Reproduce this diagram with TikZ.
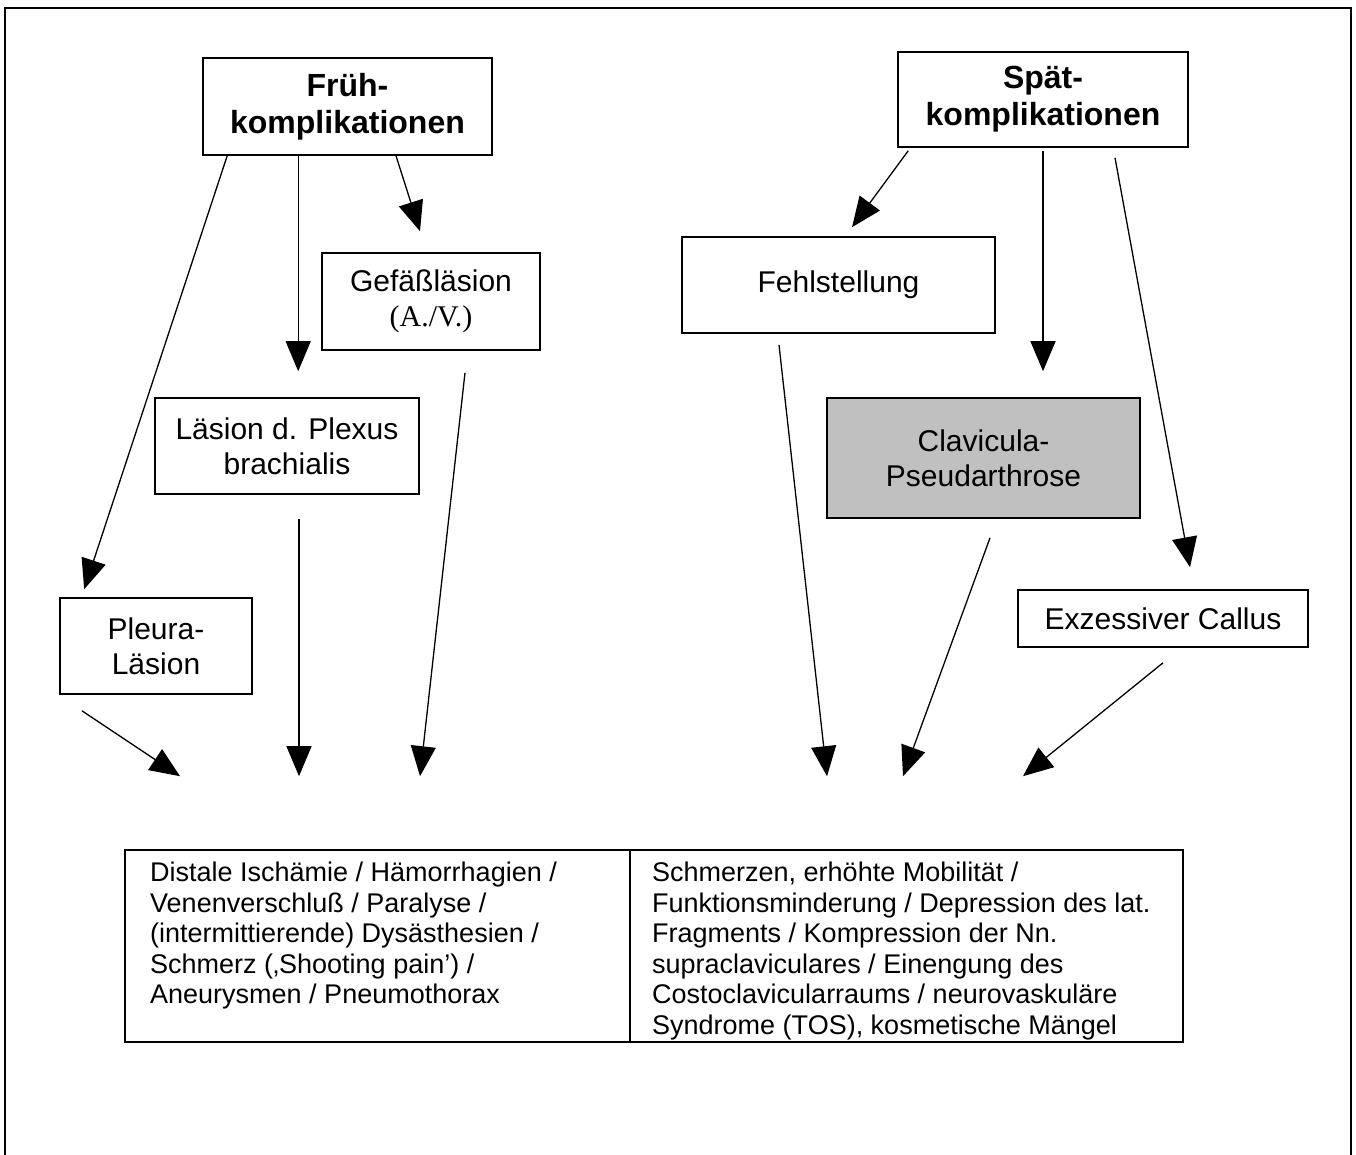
\documentclass[tikz,border=0pt]{standalone}
\usepackage{fontspec}
\setmainfont{Liberation Sans}
\newfontfamily\timesfont{Liberation Serif}
\usetikzlibrary{arrows.meta,calc}
\definecolor{boxgray}{HTML}{C0C0C0}
\begin{document}
\begin{tikzpicture}[x=1pt,y=-1pt,
  box/.style={draw,line width=1.6pt,align=center,inner sep=0pt,font=\fontsize{30}{35}\selectfont},
  title/.style={box,font=\bfseries\fontsize{32}{37}\selectfont},
  cell/.style={draw,line width=1.6pt,inner sep=0pt},
  celltext/.style={anchor=north west,align=left,inner sep=0pt,font=\fontsize{27}{30.5}\selectfont},
  arr/.style={line width=1.3pt,-{Triangle[length=30pt,width=25pt]}}]
\useasboundingbox (0,0) rectangle (1356,1154);
\draw[line width=1.8pt] (5,1170) -- (5,8) -- (1351,8) -- (1351,1170);

\node[title,minimum width=289pt,minimum height=97pt] (frueh) at (347.5,106.5) {Früh-\\komplikationen};
\node[title,minimum width=290pt,minimum height=95pt] (spaet) at (1043,99.5) {Spät-\\komplikationen};
\node[box,minimum width=218pt,minimum height=97pt] (gefaess) at (431,301.5) {Gefäßläsion\\{\timesfont (A./V.)}};
\node[box,minimum width=264pt,minimum height=96pt] (plexus) at (287,446) {Läsion d. Plexus\\brachialis};
\node[box,minimum width=192pt,minimum height=96pt] (pleura) at (156,646) {Pleura-\\Läsion};
\node[box,minimum width=313pt,minimum height=96pt] (fehl) at (838.5,285) {Fehlstellung};
\node[box,fill=boxgray,minimum width=313pt,minimum height=120pt] (clav) at (983.5,458) {Clavicula-\\Pseudarthrose};
\node[box,minimum width=290pt,minimum height=57pt] (callus) at (1163,618.5) {Exzessiver Callus};
\node[cell,minimum width=505pt,minimum height=192pt] (tabL) at (377.5,946) {};
\node[cell,minimum width=553pt,minimum height=192pt] (tabR) at (906.5,946) {};
\node[celltext] (tabLtext) at (150,862) {Distale Ischämie / Hämorrhagien /\\Venenverschluß / Paralyse /\\(intermittierende) Dysästhesien /\\Schmerz (‚Shooting pain’) /\\Aneurysmen / Pneumothorax};
\node[celltext] (tabRtext) at (652,862) {Schmerzen, erhöhte Mobilität /\\Funktionsminderung / Depression des lat.\\Fragments / Kompression der Nn.\\supraclaviculares / Einengung des\\Costoclavicularraums / neurovaskuläre\\Syndrome (TOS), kosmetische Mängel};

% Frühkomplikationen
\draw[arr] ($(frueh.south west)+(25,0)$) -- ($(pleura.north west)+(25,-8)$);
\draw[arr] ($(frueh.south west)+(96,0)$) -- ($(plexus.north west)+(144,-26)$);
\draw[arr] ($(frueh.south)+(48.5,0)$) -- ($(gefaess.north)+(-11,-21)$);
\draw[arr] ($(gefaess.south)+(34,22)$) -- ($(tabL.north)+(42.5,-73)$);
\draw[arr] ($(plexus.south)+(12,24)$) -- ($(tabL.north)+(-78.5,-73)$);
\draw[arr] ($(pleura.south)+(-74,16)$) -- ($(tabL.north)+(-197.5,-73)$);
% Spätkomplikationen
\draw[arr] ($(spaet.south west)+(11,3)$) -- ($(fehl.north)+(13.5,-9)$);
\draw[arr] ($(spaet.south)+(0,3)$) -- ($(clav.north)+(59.5,-26)$);
\draw[arr] ($(spaet.south)+(72,10)$) -- ($(callus.north)+(27,-22)$);
\draw[arr] ($(fehl.south)+(-59.5,11)$) -- ($(tabR.north)+(-79.5,-73)$);
\draw[arr] ($(clav.south)+(6.5,19)$) -- ($(tabR.north)+(-3.5,-73)$);
\draw[arr] ($(callus.south)+(0,15)$) -- ($(tabR.north)+(116.5,-73)$);
\end{tikzpicture}
\end{document}
